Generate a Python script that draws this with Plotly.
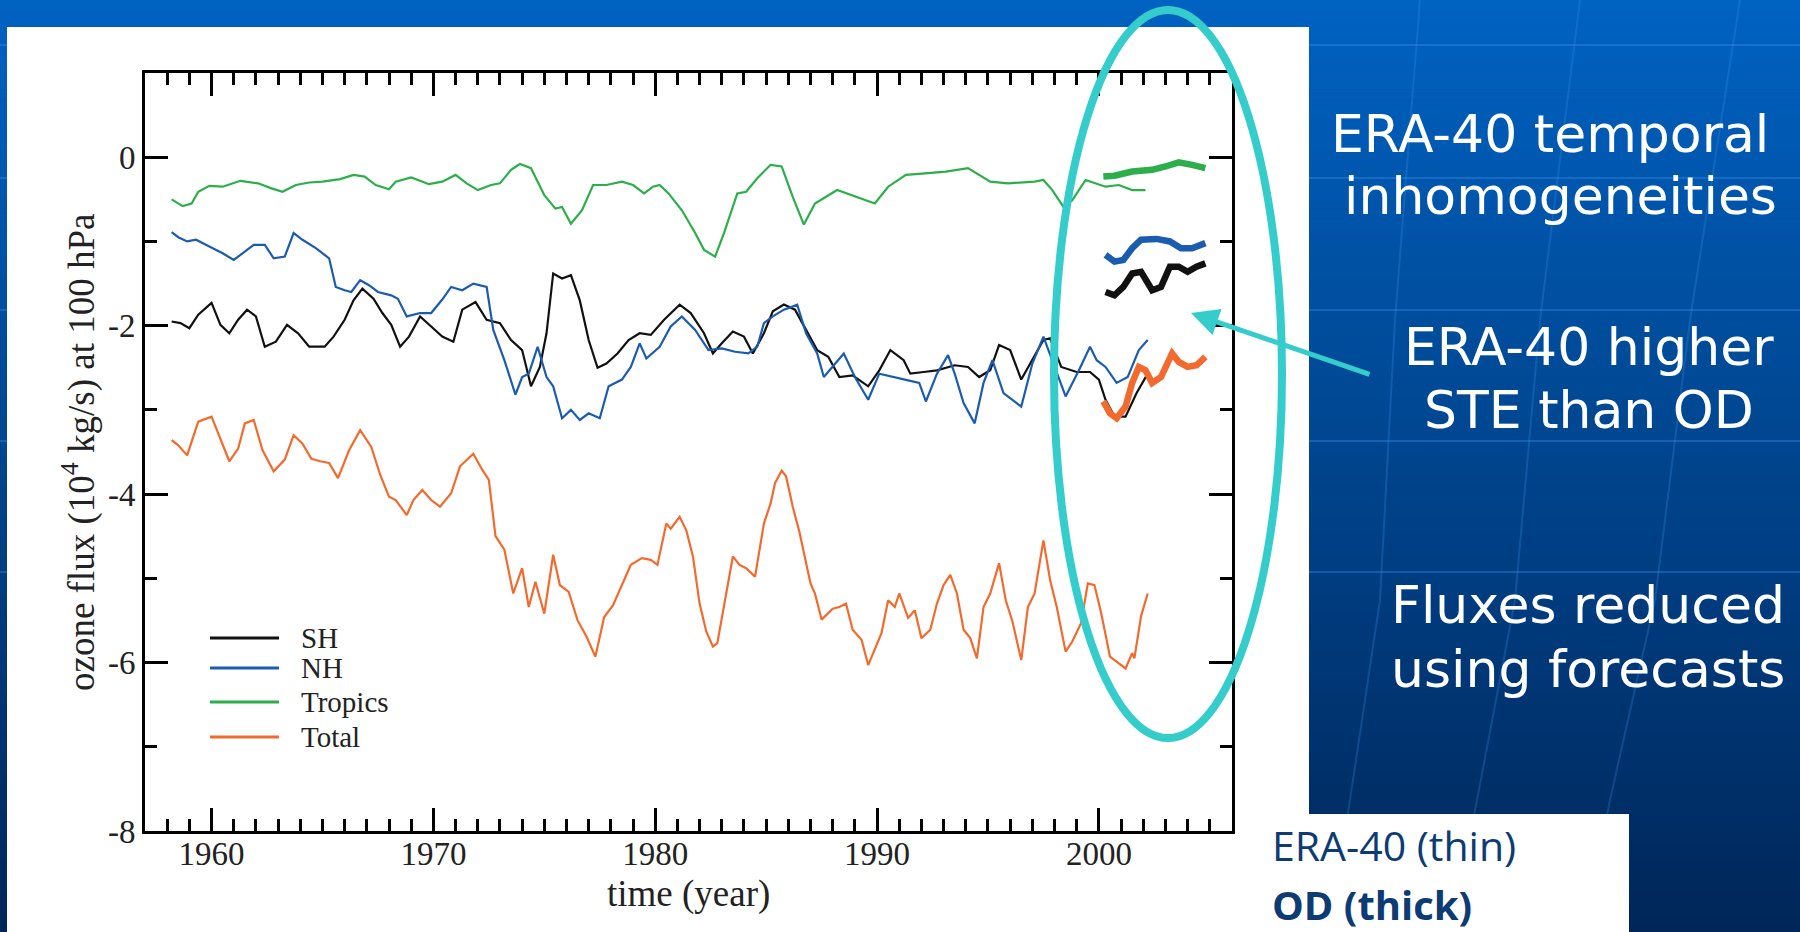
import plotly.graph_objects as go

# ---------------- data: ozone flux at 100 hPa (10^4 kg/s) ----------------
# ERA-40 reanalysis (thin lines)
sh_year = [1958.2, 1958.6, 1959.0, 1959.4, 1960.0, 1960.4, 1960.8, 1961.2, 1961.6, 1962.0,
           1962.4, 1962.9, 1963.4, 1963.9, 1964.4, 1965.1, 1965.5, 1966.0, 1966.4, 1966.8,
           1967.3, 1967.7, 1968.1, 1968.5, 1968.9, 1969.4, 1969.9, 1970.4, 1970.9, 1971.3,
           1971.9, 1972.4, 1973.0, 1973.5, 1974.0, 1974.4, 1974.8, 1975.1, 1975.4, 1975.8,
           1976.2, 1976.6, 1977.0, 1977.4, 1977.8, 1978.3, 1978.8, 1979.3, 1979.8, 1980.4,
           1981.1, 1981.6, 1982.2, 1982.6, 1983.0, 1983.5, 1984.0, 1984.4, 1984.9, 1985.3,
           1985.8, 1986.3, 1986.8, 1987.3, 1987.8, 1988.3, 1988.9, 1989.6, 1990.1, 1990.6,
           1991.2, 1991.5, 1992.1, 1992.7, 1993.5, 1994.1, 1994.6, 1995.1, 1995.5, 1996.0,
           1996.5, 1997.0, 1997.5, 1997.8, 1998.3, 1999.0, 1999.6, 2000.0, 2000.3, 2000.7,
           2001.2, 2001.7, 2002.2]
sh_flux = [-1.95, -1.97, -2.03, -1.87, -1.73, -1.99, -2.09, -1.93, -1.81, -1.89,
           -2.25, -2.19, -1.99, -2.09, -2.25, -2.25, -2.13, -1.93, -1.70, -1.56,
           -1.68, -1.85, -1.99, -2.25, -2.13, -1.89, -2.01, -2.13, -2.19, -1.81,
           -1.72, -1.93, -1.97, -2.17, -2.29, -2.72, -2.49, -2.09, -1.38, -1.44,
           -1.40, -1.70, -2.17, -2.50, -2.45, -2.33, -2.17, -2.09, -2.11, -1.93,
           -1.75, -1.85, -2.09, -2.33, -2.21, -2.07, -2.13, -2.33, -2.09, -1.83,
           -1.75, -1.81, -2.05, -2.29, -2.37, -2.61, -2.59, -2.72, -2.53, -2.29,
           -2.41, -2.57, -2.55, -2.53, -2.47, -2.49, -2.61, -2.53, -2.23, -2.29,
           -2.64, -2.41, -2.17, -2.15, -2.49, -2.55, -2.55, -2.64, -2.88, -3.08,
           -3.08, -2.80, -2.57]

nh_year = [1958.2, 1958.5, 1958.9, 1959.3, 1959.9, 1960.5, 1961.0, 1961.4, 1961.9, 1962.4,
           1962.8, 1963.3, 1963.7, 1964.1, 1964.7, 1965.3, 1965.6, 1966.0, 1966.3, 1966.7,
           1967.1, 1967.5, 1968.1, 1968.4, 1968.8, 1969.4, 1969.9, 1970.4, 1970.8, 1971.3,
           1971.8, 1972.4, 1972.7, 1973.2, 1973.7, 1974.0, 1974.3, 1974.7, 1975.1, 1975.4,
           1975.8, 1976.2, 1976.6, 1977.0, 1977.5, 1977.9, 1978.5, 1978.9, 1979.3, 1979.6,
           1980.2, 1980.7, 1981.2, 1981.8, 1982.4, 1983.0, 1983.6, 1984.2, 1984.6, 1984.9,
           1985.3, 1985.8, 1986.4, 1986.8, 1987.3, 1987.6, 1988.0, 1988.5, 1989.0, 1989.6,
           1990.1, 1990.7, 1991.4, 1991.9, 1992.2, 1992.7, 1993.2, 1993.5, 1993.9, 1994.4,
           1994.8, 1995.2, 1995.7, 1996.5, 1997.0, 1997.5, 1998.0, 1998.5, 1999.1, 1999.6,
           1999.9, 2000.3, 2000.8, 2001.3, 2001.8, 2002.2]
nh_flux = [-0.89, -0.95, -1.00, -0.98, -1.06, -1.14, -1.22, -1.14, -1.04, -1.04,
           -1.20, -1.18, -0.90, -0.98, -1.08, -1.20, -1.54, -1.58, -1.60, -1.46,
           -1.52, -1.60, -1.64, -1.68, -1.89, -1.85, -1.85, -1.69, -1.54, -1.58,
           -1.50, -1.54, -2.05, -2.41, -2.82, -2.61, -2.57, -2.25, -2.61, -2.72,
           -3.10, -3.00, -3.12, -3.04, -3.10, -2.72, -2.64, -2.49, -2.21, -2.39,
           -2.25, -2.01, -1.89, -2.05, -2.29, -2.27, -2.31, -2.33, -2.25, -1.97,
           -1.89, -1.81, -1.75, -2.09, -2.33, -2.61, -2.49, -2.33, -2.61, -2.88,
           -2.57, -2.61, -2.65, -2.68, -2.90, -2.57, -2.35, -2.57, -2.92, -3.16,
           -2.68, -2.41, -2.80, -2.96, -2.45, -2.13, -2.49, -2.84, -2.53, -2.25,
           -2.41, -2.49, -2.68, -2.61, -2.29, -2.17]

tr_year = [1958.2, 1958.7, 1959.1, 1959.4, 1959.9, 1960.5, 1961.3, 1962.1, 1962.7, 1963.2,
           1963.8, 1964.4, 1965.0, 1965.8, 1966.4, 1966.9, 1967.4, 1968.0, 1968.3, 1969.0,
           1969.8, 1970.4, 1971.0, 1971.5, 1972.0, 1972.6, 1973.0, 1973.5, 1973.9, 1974.4,
           1975.0, 1975.5, 1975.8, 1976.2, 1976.7, 1977.2, 1977.8, 1978.5, 1979.0, 1979.5,
           1979.9, 1980.2, 1980.6, 1981.2, 1981.8, 1982.2, 1982.7, 1983.1, 1983.7, 1984.1,
           1984.6, 1985.2, 1985.7, 1986.2, 1986.7, 1987.2, 1988.2, 1989.1, 1989.9, 1990.5,
           1991.3, 1992.3, 1993.1, 1994.1, 1995.1, 1995.9, 1997.1, 1997.5, 1997.9, 1998.4,
           1998.8, 1999.4, 1999.9, 2000.3, 2000.9, 2001.5, 2002.1]
tr_flux = [-0.50, -0.58, -0.55, -0.41, -0.34, -0.35, -0.28, -0.31, -0.37, -0.41,
           -0.33, -0.30, -0.29, -0.26, -0.21, -0.23, -0.33, -0.38, -0.29, -0.24,
           -0.32, -0.29, -0.21, -0.31, -0.39, -0.33, -0.31, -0.15, -0.08, -0.13,
           -0.45, -0.61, -0.59, -0.79, -0.63, -0.33, -0.33, -0.29, -0.33, -0.43,
           -0.35, -0.33, -0.43, -0.63, -0.90, -1.10, -1.18, -0.90, -0.43, -0.41,
           -0.25, -0.09, -0.11, -0.47, -0.80, -0.55, -0.39, -0.47, -0.55, -0.35,
           -0.21, -0.19, -0.17, -0.13, -0.29, -0.31, -0.29, -0.27, -0.39, -0.59,
           -0.51, -0.27, -0.31, -0.35, -0.33, -0.39, -0.39]

tot_year = [1958.2, 1958.5, 1958.9, 1959.4, 1960.0, 1960.5, 1960.8, 1961.2, 1961.5, 1961.9,
            1962.3, 1962.8, 1963.3, 1963.7, 1964.1, 1964.5, 1964.9, 1965.3, 1965.7, 1966.2,
            1966.7, 1967.2, 1967.6, 1968.0, 1968.3, 1968.8, 1969.1, 1969.5, 1969.9, 1970.3,
            1970.8, 1971.2, 1971.8, 1972.2, 1972.5, 1972.8, 1973.2, 1973.6, 1974.0, 1974.3,
            1974.6, 1975.0, 1975.4, 1975.7, 1976.1, 1976.5, 1976.9, 1977.3, 1977.7, 1978.1,
            1978.5, 1978.9, 1979.4, 1979.8, 1980.1, 1980.5, 1980.7, 1981.1, 1981.4, 1981.7,
            1982.0, 1982.3, 1982.6, 1982.8, 1983.2, 1983.5, 1983.8, 1984.1, 1984.5, 1984.9,
            1985.2, 1985.4, 1985.7, 1985.9, 1986.2, 1986.5, 1987.0, 1987.2, 1987.5, 1988.0,
            1988.3, 1988.6, 1988.9, 1989.3, 1989.6, 1989.9, 1990.2, 1990.5, 1990.8, 1991.0,
            1991.4, 1991.7, 1992.0, 1992.4, 1992.7, 1993.0, 1993.3, 1993.6, 1993.9, 1994.2,
            1994.5, 1994.8, 1995.1, 1995.5, 1995.8, 1996.1, 1996.5, 1996.8, 1997.1, 1997.5,
            1997.8, 1998.1, 1998.5, 1998.8, 1999.2, 1999.5, 1999.8, 2000.1, 2000.5, 2000.9,
            2001.2, 2001.5, 2001.6, 2001.9, 2002.2]
tot_flux = [-3.36, -3.42, -3.54, -3.14, -3.08, -3.40, -3.61, -3.46, -3.16, -3.12,
            -3.48, -3.73, -3.59, -3.30, -3.40, -3.58, -3.61, -3.63, -3.81, -3.48,
            -3.24, -3.44, -3.77, -4.03, -4.07, -4.25, -4.07, -3.95, -4.07, -4.15,
            -3.99, -3.67, -3.52, -3.71, -3.83, -4.50, -4.66, -5.18, -4.88, -5.34,
            -5.04, -5.42, -4.72, -5.08, -5.16, -5.50, -5.69, -5.93, -5.46, -5.32,
            -5.08, -4.84, -4.76, -4.78, -4.84, -4.35, -4.41, -4.27, -4.43, -4.74,
            -5.30, -5.63, -5.81, -5.77, -5.18, -4.74, -4.84, -4.88, -4.98, -4.35,
            -4.11, -3.87, -3.72, -3.79, -4.15, -4.45, -5.06, -5.18, -5.49, -5.36,
            -5.34, -5.30, -5.61, -5.73, -6.03, -5.85, -5.65, -5.26, -5.34, -5.18,
            -5.47, -5.38, -5.71, -5.61, -5.30, -5.08, -4.96, -5.18, -5.61, -5.71,
            -5.95, -5.34, -5.18, -4.82, -5.26, -5.51, -5.97, -5.34, -5.18, -4.55,
            -5.02, -5.34, -5.87, -5.75, -5.53, -5.06, -5.08, -5.41, -5.93, -6.01,
            -6.07, -5.89, -5.95, -5.45, -5.18]

# Operational analyses (thick lines)
od_sh_year = [2000.3, 2000.7, 2001.1, 2001.5, 2001.9, 2002.4, 2002.8, 2003.2, 2003.6, 2004.0, 2004.4, 2004.8]
od_sh_flux = [-1.60, -1.64, -1.54, -1.38, -1.36, -1.58, -1.54, -1.30, -1.30, -1.36, -1.30, -1.26]
od_nh_year = [2000.3, 2000.7, 2001.1, 2001.5, 2001.9, 2002.6, 2003.2, 2003.7, 2004.2, 2004.8]
od_nh_flux = [-1.16, -1.24, -1.22, -1.08, -0.98, -0.97, -1.00, -1.08, -1.08, -1.02]
od_tr_year = [2000.2, 2000.7, 2001.5, 2002.4, 2003.0, 2003.6, 2004.2, 2004.8]
od_tr_flux = [-0.23, -0.22, -0.17, -0.15, -0.11, -0.06, -0.09, -0.13]
od_tot_year = [2000.2, 2000.5, 2000.8, 2001.2, 2001.5, 2001.8, 2002.1, 2002.4, 2002.8, 2003.3,
               2003.6, 2004.0, 2004.4, 2004.8]
od_tot_flux = [-2.90, -3.04, -3.10, -2.96, -2.68, -2.49, -2.53, -2.68, -2.61, -2.33,
               -2.43, -2.49, -2.47, -2.37]

series_names = ["SH", "NH", "Tropics", "Total"]
x_tick_years = [1960, 1970, 1980, 1990, 2000]
y_tick_values = [0, -2, -4, -6, -8]

# ---------------- styling ----------------
W, H = 1800, 932
COLORS = {"SH": "#111111", "NH": "#1c5cb0", "Tropics": "#2cae4a", "Total": "#f26a2e"}
SERIF = "Liberation Serif, Times New Roman, serif"
CYAN = "#35cccc"
TEXT_DARK = "#222222"


def px(x):
    return x / W


def py(y):
    return 1 - y / H


fig = go.Figure()

era = {"SH": (sh_year, sh_flux), "NH": (nh_year, nh_flux),
       "Tropics": (tr_year, tr_flux), "Total": (tot_year, tot_flux)}
od = {"SH": (od_sh_year, od_sh_flux), "NH": (od_nh_year, od_nh_flux),
      "Tropics": (od_tr_year, od_tr_flux), "Total": (od_tot_year, od_tot_flux)}

for name in series_names:
    xs, ys = era[name]
    fig.add_trace(go.Scatter(x=xs, y=ys, mode="lines", name=name,
                             line=dict(color=COLORS[name], width=2.2)))
for name in series_names:
    xs, ys = od[name]
    fig.add_trace(go.Scatter(x=xs, y=ys, mode="lines", name=name + " (OD)",
                             line=dict(color=COLORS[name], width=6.5)))

shapes = []

# slide background: vertical blue gradient built from thin bands
n_bands = 94
top_rgb, bot_rgb = (0, 98, 194), (0, 38, 88)
for i in range(n_bands):
    t = (i + 0.5) / n_bands
    c = tuple(round(a + (b - a) * t) for a, b in zip(top_rgb, bot_rgb))
    y0 = i * H / n_bands
    y1 = (i + 1) * H / n_bands + 0.6
    shapes.append(dict(type="rect", xref="paper", yref="paper", layer="below",
                       x0=0, x1=1, y0=py(y1), y1=py(y0),
                       fillcolor="rgb(%d,%d,%d)" % c, line=dict(width=0)))

# faint globe grid on the background
grid_col = "rgba(60,150,240,0.35)"
for gy in [45, 178, 310, 441, 572]:
    shapes.append(dict(type="line", xref="paper", yref="paper", layer="below",
                       x0=0, x1=1, y0=py(gy), y1=py(gy),
                       line=dict(color=grid_col, width=2)))
meridians = [
    [(1420, 0), (1395, 320), (1380, 600), (1350, 800), (1330, 932)],
    [(1580, 0), (1540, 320), (1515, 600), (1477, 800), (1450, 932)],
    [(1740, 0), (1690, 320), (1655, 600), (1610, 800), (1585, 932)],
]
for pts in meridians:
    path = "M " + " L ".join("%.5f,%.5f" % (px(a), py(b)) for a, b in pts)
    shapes.append(dict(type="path", xref="paper", yref="paper", layer="below",
                       path=path, line=dict(color="rgba(60,150,240,0.25)", width=2)))

# white panels holding the chart and the line-style key
shapes.append(dict(type="rect", xref="paper", yref="paper", layer="below",
                   x0=px(7), x1=px(1309), y0=-0.01, y1=py(27),
                   fillcolor="white", line=dict(width=0)))
shapes.append(dict(type="rect", xref="paper", yref="paper", layer="below",
                   x0=px(1300), x1=px(1629), y0=-0.01, y1=py(814),
                   fillcolor="white", line=dict(width=0)))

# legend key lines
legend_y = [638, 668, 702, 737]
for name, ly in zip(series_names, legend_y):
    shapes.append(dict(type="line", xref="paper", yref="paper",
                       x0=px(210), x1=px(279), y0=py(ly), y1=py(ly),
                       line=dict(color=COLORS[name], width=3)))

# highlight ellipse around the overlap period
shapes.append(dict(type="circle", xref="paper", yref="paper",
                   x0=px(1054), x1=px(1282), y0=py(738), y1=py(10),
                   line=dict(color=CYAN, width=8)))

annotations = []
for name, ly in zip(series_names, legend_y):
    annotations.append(dict(xref="paper", yref="paper", x=px(299), y=py(ly),
                            xanchor="left", yanchor="middle", showarrow=False,
                            text=name, font=dict(family=SERIF, size=29, color=TEXT_DARK)))

# axis titles
annotations.append(dict(xref="paper", yref="paper", x=px(688), y=py(894),
                        xanchor="center", yanchor="middle", showarrow=False,
                        text="time (year)", font=dict(family=SERIF, size=37, color=TEXT_DARK)))
annotations.append(dict(xref="paper", yref="paper", x=px(79), y=py(453),
                        xanchor="center", yanchor="middle", showarrow=False, textangle=-90,
                        text="ozone flux (10<sup>4</sup> kg/s) at 100 hPa",
                        font=dict(family=SERIF, size=37, color=TEXT_DARK)))

# arrow pointing at the OD curves
annotations.append(dict(xref="paper", yref="paper", x=px(1191), y=py(313),
                        ax=180, ay=62, text="", showarrow=True,
                        arrowhead=2, arrowsize=1.1, arrowwidth=5, arrowcolor=CYAN))

# commentary on the right
SANS = "DejaVu Sans, Verdana, sans-serif"
notes = [
    ("ERA-40 temporal", 1550, 152),
    ("inhomogeneities", 1560, 214),
    ("ERA-40 higher", 1589, 365),
    ("STE than OD", 1589, 428),
    ("Fluxes reduced", 1588, 623),
    ("using forecasts", 1588, 687),
]
for txt, cx, base in notes:
    annotations.append(dict(xref="paper", yref="paper", x=px(cx), y=py(base - 18),
                            xanchor="center", yanchor="middle", showarrow=False,
                            text=txt, font=dict(family=SANS, size=52, color="white")))

# line-style key
KEY = "Open Sans, DejaVu Sans, sans-serif"
annotations.append(dict(xref="paper", yref="paper", x=px(1270), y=py(845),
                        xanchor="left", yanchor="middle", showarrow=False,
                        text="ERA-40 (thin)", font=dict(family=KEY, size=41, color="#0d3b73")))
annotations.append(dict(xref="paper", yref="paper", x=px(1270), y=py(904),
                        xanchor="left", yanchor="middle", showarrow=False,
                        text="<b>OD (thick)</b>", font=dict(family=KEY, size=40, color="#0d3b73")))

axis_common = dict(showline=True, linewidth=3, linecolor="black", mirror="ticks",
                   ticks="inside", tickwidth=3, tickcolor="black", ticklen=23,
                   showgrid=False, zeroline=False, automargin=False,
                   tickfont=dict(family=SERIF, size=33, color=TEXT_DARK))

fig.update_layout(
    template="none",
    width=W, height=H, autosize=False,
    margin=dict(l=0, r=0, t=0, b=0, pad=0, autoexpand=False),
    paper_bgcolor="rgb(0,60,130)",
    plot_bgcolor="white",
    showlegend=False,
    shapes=shapes,
    annotations=annotations,
    xaxis=dict(domain=[px(145), px(1232)], range=[1957, 2006],
               tickmode="array", tickvals=x_tick_years,
               ticktext=[str(v) for v in x_tick_years],
               ticklabelstandoff=-9,
               minor=dict(dtick=1, tick0=1957, ticks="inside", ticklen=12,
                          tickwidth=3, tickcolor="black"),
               **axis_common),
    yaxis=dict(domain=[py(831), py(73)], range=[-8, 1],
               tickmode="array", tickvals=y_tick_values,
               ticktext=[str(v) for v in y_tick_values],
               minor=dict(dtick=1, tick0=0, ticks="inside", ticklen=12,
                          tickwidth=3, tickcolor="black"),
               **axis_common),
)

fig.write_html("out.html")
